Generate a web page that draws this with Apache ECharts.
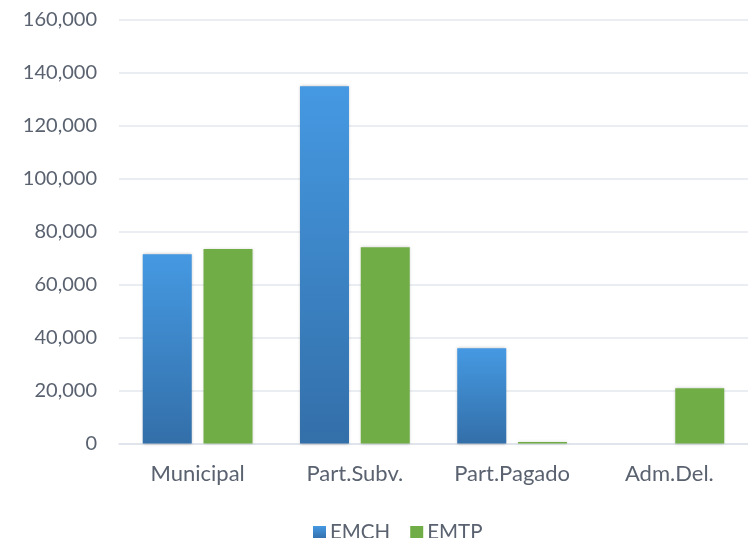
<!DOCTYPE html>
<html><head><meta charset="utf-8">
<script src="https://cdn.jsdelivr.net/npm/echarts@6/dist/echarts.min.js"></script>
<style>html,body{margin:0;padding:0;background:#fff}#c{width:748px;height:538px}</style>
</head><body><div id="c"></div>
<script>
const categories = ['Municipal', 'Part.Subv.', 'Part.Pagado', 'Adm.Del.'];
const emch = [71500, 135000, 36000, 0];
const emtp = [73500, 74100, 600, 20900];
const yTicks = [0, 20000, 40000, 60000, 80000, 100000, 120000, 140000, 160000];

const chart = echarts.init(document.getElementById('c'));
const txt = '#5a6270';
const font = 'Lato';
chart.setOption({
  animation: false,
  textStyle: { fontFamily: font },
  grid: { left: 119, right: -2, top: 20, bottom: 94.5 },
  legend: {
    top: 517, left: 308, itemWidth: 13, itemHeight: 13, itemGap: 20,
    icon: 'rect',
    textStyle: { color: txt, fontSize: 20.5, fontFamily: font, padding: [0, 0, 0, -1] },
    data: ['EMCH', 'EMTP']
  },
  xAxis: {
    type: 'category', data: categories,
    axisLine: { lineStyle: { color: '#dde2ea', width: 1.5 } },
    axisTick: { show: false },
    axisLabel: { color: txt, fontSize: 22, margin: 19, fontFamily: font }
  },
  yAxis: {
    type: 'value', min: yTicks[0], max: yTicks[yTicks.length - 1], interval: yTicks[1] - yTicks[0],
    axisLine: { show: false }, axisTick: { show: false },
    splitLine: { lineStyle: { color: '#e3e7ee', width: 1.5 } },
    axisLabel: { color: txt, fontSize: 20, margin: 22, fontFamily: font,
      formatter: v => v.toLocaleString('en-US') }
  },
  series: [
    { name: 'EMCH', type: 'bar', data: emch, barWidth: 49, barGap: '24%',
      itemStyle: {
        color: new echarts.graphic.LinearGradient(0, 0, 0, 1, [
          { offset: 0, color: '#4599e2' }, { offset: 1, color: '#336fa9' }]),
        shadowColor: 'rgba(0,0,0,0.25)', shadowBlur: 3
      } },
    { name: 'EMTP', type: 'bar', data: emtp, barWidth: 49,
      itemStyle: { color: '#70ad47', shadowColor: 'rgba(0,0,0,0.2)', shadowBlur: 3 } }
  ]
});
</script></body></html>
